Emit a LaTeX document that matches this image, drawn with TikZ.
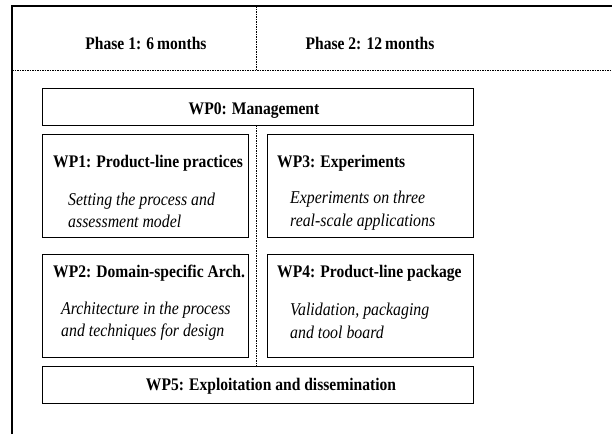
\documentclass[tikz,border=0pt]{standalone}
\usepackage{fontspec}
\setmainfont{Liberation Serif}
\newfontfamily\condserif[FakeStretch=0.88]{Liberation Serif}
\begin{document}
\begin{tikzpicture}[x=1pt,y=-1pt,
  box/.style={draw, line width=1.3pt, rectangle, inner sep=0pt, anchor=north west},
  ttl/.style={font=\condserif\fontsize{17.7}{20}\selectfont\bfseries, inner sep=0pt},
  desc/.style={font=\condserif\fontsize{18}{22.6}\selectfont\itshape, inner sep=0pt, anchor=west, align=left},
  dsh/.style={line width=0.8pt, dash pattern=on 1.6pt off 0.9pt}]
\useasboundingbox (0,0) rectangle (612,434);
% frame
\coordinate (fbl) at (12,434);
\coordinate (ftl) at (12,6);
\coordinate (ftr) at (612,6);
\coordinate (hl) at (12,70);
\coordinate (hr) at (612,70);
\coordinate (vt) at (256,6);
\coordinate (vb) at (256,70);
\draw[line width=1.3pt] (fbl) -- (ftl) -- (ftr);
\draw[dsh] (hl) -- (hr);
\draw[dsh] (vt) -- (vb);
\node[ttl] (ph1) at (146,43) {Phase 1: 6\,months};
\node[ttl] (ph2) at (370,43) {Phase 2: 12\,months};
% boxes
\node[box, minimum width=431, minimum height=37] (wp0) at (42,88) {};
\node[box, minimum width=206, minimum height=102.5] (wp1) at (42,134) {};
\node[box, minimum width=206, minimum height=102.5] (wp3) at (267,134) {};
\node[box, minimum width=206, minimum height=102.5] (wp2) at (42,254) {};
\node[box, minimum width=206, minimum height=102.5] (wp4) at (267,254) {};
\node[box, minimum width=431, minimum height=37] (wp5) at (42,366) {};
\coordinate (va) at (256,125);
\coordinate (vz) at (256,366);
\draw[dsh] (va) -- (vz);
% texts
\node[ttl] (t0) at (254,111) {WP0: Management};
\node[ttl, anchor=west] (t1) at (53,163) {WP1: Product-line practices};
\node[desc] (d1) at (68,210.5) {Setting the process and\\assessment model};
\node[ttl, anchor=west] (t3) at (277,163) {WP3: Experiments};
\node[desc] (d3) at (290,210.5) {Experiments on three\\real-scale applications};
\node[ttl, anchor=west] (t2) at (53,273) {WP2: Domain-specific Arch.};
\node[desc] (d2) at (61,321) {Architecture in the process\\and techniques for design};
\node[ttl, anchor=west] (t4) at (277,273) {WP4: Product-line package};
\node[desc] (d4) at (290,321) {Validation, packaging\\and tool board};
\node[ttl] (t5) at (271,386.5) {WP5: Exploitation and dissemination};
\end{tikzpicture}
\end{document}
